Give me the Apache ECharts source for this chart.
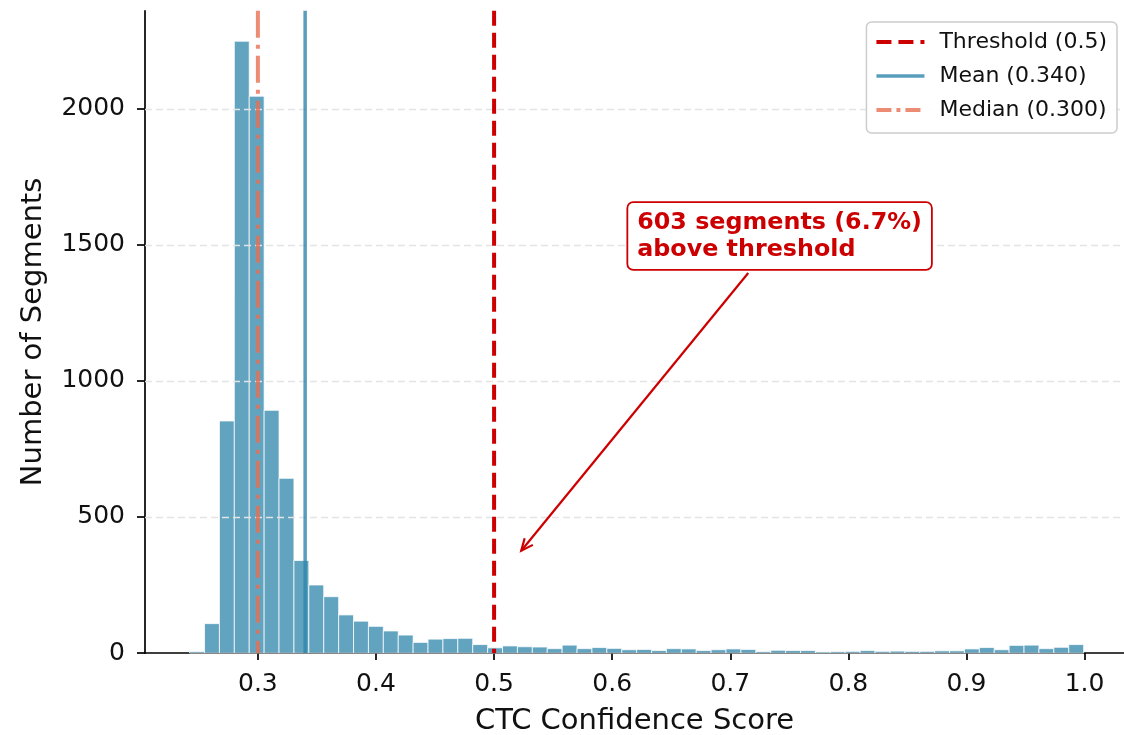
<!DOCTYPE html>
<html><head><meta charset="utf-8">
<script src="https://cdn.jsdelivr.net/npm/echarts@6/dist/echarts.min.js"></script>
<style>html,body{margin:0;padding:0;background:#fff}#c{width:1124px;height:735px}</style>
</head><body><div id="c"></div>
<script>
// ---- data ----
const binStart = 0.2422;
const binWidth = 0.012617;
const counts = [5,108,853,2249,2047,892,642,340,250,207,140,117,98,81,66,39,51,53,54,31,
                19,26,23,22,16,29,16,20,17,12,13,9,16,15,9,12,15,13,5,10,
                9,9,4,5,6,9,6,7,6,6,8,8,15,20,12,28,29,16,21,31];
const xTicks = [0.3,0.4,0.5,0.6,0.7,0.8,0.9,1.0];
const yTicks = [0,500,1000,1500,2000];
const threshold = 0.5;
const meanVal = 0.340;
const medianVal = 0.300;
const xRange = [0.2044, 1.0334];
const yMax = 2361;
const annText = '603 segments (6.7%)\nabove threshold';
const annTextAt = [0.6136, 1533];
const annArrowFrom = [0.7152, 1397];
const annArrowTo = [0.523, 376];

const FONT = '"DejaVu Sans", sans-serif';
const C_THR = '#CC0000', C_MEAN = '#2E86AB', C_MED = '#E76F51';
const chart = echarts.init(document.getElementById('c'));

const binData = counts.map((c, i) => [binStart + i * binWidth, c]);

chart.setOption({
  animation: false,
  grid: {left: 145, right: 0, top: 10.8, bottom: 82, containLabel: false, outerBoundsMode: 'none'},
  xAxis: {
    type: 'value', min: xRange[0], max: xRange[1],
    name: 'CTC Confidence Score', nameLocation: 'middle', nameGap: 54,
    nameTextStyle: {fontFamily: FONT, fontSize: 29, color: '#111'},
    axisLine: {lineStyle: {color: '#000', width: 1.7}},
    axisTick: {show: true, inside: false, length: 7, lineStyle: {color: '#000', width: 1.7}, customValues: xTicks},
    axisLabel: {customValues: xTicks, margin: 19, fontFamily: FONT, fontSize: 25, color: '#111',
                formatter: v => v.toFixed(1)},
    splitLine: {show: false}
  },
  yAxis: {
    type: 'value', min: 0, max: yMax,
    name: 'Number of Segments', nameLocation: 'middle', nameGap: 97,
    nameTextStyle: {fontFamily: FONT, fontSize: 29, color: '#111'},
    axisLine: {show: true, lineStyle: {color: '#000', width: 1.7}},
    axisTick: {show: true, inside: false, length: 8, lineStyle: {color: '#000', width: 1.7}, customValues: yTicks},
    axisLabel: {customValues: yTicks, margin: 20, fontFamily: FONT, fontSize: 25, color: '#111',
                formatter: v => String(v)},
    splitLine: {show: false}
  },
  legend: {
    z: 20,
    orient: 'vertical', right: 7, top: 22, padding: [9, 10, 12, 8],
    itemWidth: 48, itemHeight: 14, itemGap: 12,
    backgroundColor: 'rgba(255,255,255,0.92)', borderColor: '#cccccc', borderWidth: 1.5, borderRadius: 5,
    textStyle: {fontFamily: FONT, fontSize: 22, color: '#111', padding: [0, 0, 0, 10]},
    itemStyle: {opacity: 0, borderWidth: 0},
    selectedMode: false,
    data: [
      {name: 'Threshold (0.5)', itemStyle: {opacity: 0}, lineStyle: {color: C_THR, width: 4, type: [15, 7], opacity: 1}},
      {name: 'Mean (0.340)', itemStyle: {opacity: 0}, lineStyle: {color: C_MEAN, width: 3.5, type: 'solid', opacity: 0.8}},
      {name: 'Median (0.300)', itemStyle: {opacity: 0}, lineStyle: {color: C_MED, width: 4, type: [15, 5, 4, 5], opacity: 0.8}}
    ]
  },
  series: [
    {
      type: 'line', data: [], silent: true, z: 1,
      markLine: {
        silent: true, symbol: ['none', 'none'], label: {show: false},
        lineStyle: {color: '#e4e4e4', type: [7, 4], width: 1.3},
        data: yTicks.filter(v => v > 0).map(v => ({yAxis: v}))
      }
    },
    {
      type: 'custom', z: 2, silent: true, data: binData,
      renderItem(params, api) {
        const x0 = api.value(0);
        const p0 = api.coord([x0, api.value(1)]);
        const p1 = api.coord([x0 + binWidth, 0]);
        return {type: 'rect',
          shape: {x: p0[0], y: p0[1], width: p1[0] - p0[0], height: p1[1] - p0[1]},
          style: {fill: '#2E86AB', stroke: '#ffffff', lineWidth: 1, opacity: 0.75}};
      }
    },
    {
      name: 'Threshold (0.5)', type: 'line', z: 6, silent: true, symbol: 'none',
      itemStyle: {color: C_THR},
      data: [[threshold, yMax], [threshold, 0]],
      lineStyle: {color: C_THR, width: 4, type: [15, 7]}
    },
    {
      name: 'Mean (0.340)', type: 'line', z: 5, silent: true, symbol: 'none',
      itemStyle: {color: C_MEAN},
      data: [[meanVal, 0], [meanVal, yMax]],
      lineStyle: {color: C_MEAN, width: 3.5, opacity: 0.8}
    },
    {
      name: 'Median (0.300)', type: 'line', z: 5, silent: true, symbol: 'none',
      itemStyle: {color: C_MED},
      data: [[medianVal, yMax], [medianVal, 0]],
      lineStyle: {color: C_MED, width: 4, opacity: 0.8, type: [27, 7, 4, 7]}
    },
    {
      type: 'custom', z: 10, silent: true, clip: false, data: [[annTextAt[0], annTextAt[1]]],
      renderItem(params, api) {
        const t = api.coord(annTextAt);
        const a = api.coord(annArrowFrom);
        const b = api.coord(annArrowTo);
        const ang = Math.atan2(b[1] - a[1], b[0] - a[0]);
        const L = 13, w = 0.42;
        const h1 = [b[0] - L * Math.cos(ang - w), b[1] - L * Math.sin(ang - w)];
        const h2 = [b[0] - L * Math.cos(ang + w), b[1] - L * Math.sin(ang + w)];
        return {type: 'group', children: [
          {type: 'line', shape: {x1: a[0], y1: a[1], x2: b[0], y2: b[1]}, style: {stroke: C_THR, lineWidth: 2.2}},
          {type: 'polyline', shape: {points: [h1, b, h2]}, style: {stroke: C_THR, lineWidth: 2.2, fill: null}},
          {type: 'text', x: t[0], y: t[1], style: {
            text: annText, fill: C_THR, font: 'bold 23.8px "DejaVu Sans", sans-serif',
            align: 'left', verticalAlign: 'middle', lineHeight: 27,
            backgroundColor: '#ffffff', borderColor: C_THR, borderWidth: 1.8, borderRadius: 5,
            padding: [6, 9, 6, 9]}}
        ]};
      }
    }
  ]
});
</script>
</body></html>
